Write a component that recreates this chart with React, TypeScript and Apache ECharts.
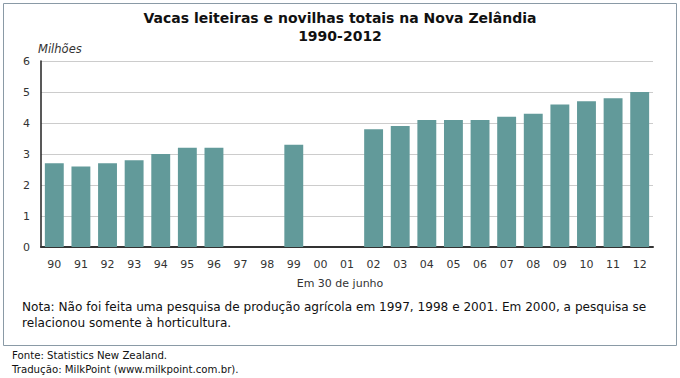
import React, { useEffect, useRef } from "react";
import * as echarts from "echarts";

const categories = ["90","91","92","93","94","95","96","97","98","99","00","01","02","03","04","05","06","07","08","09","10","11","12"];
const values: (number | null)[] = [2.7, 2.6, 2.7, 2.8, 3.0, 3.2, 3.2, null, null, 3.3, null, null, 3.8, 3.9, 4.1, 4.1, 4.1, 4.2, 4.3, 4.6, 4.7, 4.8, 5.0];
const yTicks = [0, 1, 2, 3, 4, 5, 6];

const FONT = "'DejaVu Sans', Verdana, sans-serif";

export default function App() {
  const ref = useRef<HTMLDivElement>(null);
  useEffect(() => {
    document.body.style.margin = "0";
    const chart = echarts.init(ref.current!, null, { renderer: "svg" });
    chart.setOption({
      animation: false,
      backgroundColor: "#ffffff",
      grid: { left: 41, right: 27, top: 61, bottom: 131 },
      xAxis: {
        type: "category",
        data: categories,
        axisLine: { show: true, lineStyle: { color: "#333333", width: 2 } },
        axisTick: { show: false },
        axisLabel: { color: "#333333", fontSize: 11, fontFamily: FONT, margin: 12 },
      },
      yAxis: {
        type: "value",
        min: yTicks[0],
        max: yTicks[yTicks.length - 1],
        interval: 1,
        axisLine: { show: true, lineStyle: { color: "#222222", width: 1.5 } },
        axisTick: { show: false },
        axisLabel: { color: "#333333", fontSize: 11, fontFamily: FONT, margin: 11 },
        splitLine: { lineStyle: { color: "#cccccc", width: 1 } },
      },
      series: [
        {
          type: "bar",
          data: values,
          barCategoryGap: "29%",
          itemStyle: { color: "#629a9a" },
        },
      ],
      graphic: [
        { type: "rect", shape: { x: 3.5, y: 3.5, width: 673, height: 342 }, style: { fill: "none", stroke: "#8a9aa6", lineWidth: 1 }, z: -1 },
        { type: "text", x: 340, y: 18, style: { text: "Vacas leiteiras e novilhas totais na Nova Zelândia", font: `bold 14px ${FONT}`, fill: "#111111", textAlign: "center", textVerticalAlign: "middle" } },
        { type: "text", x: 340, y: 36, style: { text: "1990-2012", font: `bold 14px ${FONT}`, fill: "#111111", textAlign: "center", textVerticalAlign: "middle" } },
        { type: "text", x: 38, y: 49, style: { text: "Milhões", font: `italic 11.5px ${FONT}`, fill: "#333333", textVerticalAlign: "middle" } },
        { type: "text", x: 340, y: 283, style: { text: "Em 30 de junho", font: `11px ${FONT}`, fill: "#333333", textAlign: "center", textVerticalAlign: "middle" } },
        { type: "text", x: 22, y: 307, style: { text: "Nota: Não foi feita uma pesquisa de produção agrícola em 1997, 1998 e 2001. Em 2000, a pesquisa se", font: `12.1px ${FONT}`, fill: "#111111", textVerticalAlign: "middle" } },
        { type: "text", x: 22, y: 323, style: { text: "relacionou somente à horticultura.", font: `12.1px ${FONT}`, fill: "#111111", textVerticalAlign: "middle" } },
        { type: "text", x: 12, y: 355, style: { text: "Fonte: Statistics New Zealand.", font: `10.2px ${FONT}`, fill: "#111111", textVerticalAlign: "middle" } },
        { type: "text", x: 12, y: 369, style: { text: "Tradução: MilkPoint (www.milkpoint.com.br).", font: `10.2px ${FONT}`, fill: "#111111", textVerticalAlign: "middle" } },
      ],
    });
    return () => chart.dispose();
  }, []);
  return <div ref={ref} style={{ position: "absolute", left: 0, top: 0, width: 680, height: 378 }} />;
}
